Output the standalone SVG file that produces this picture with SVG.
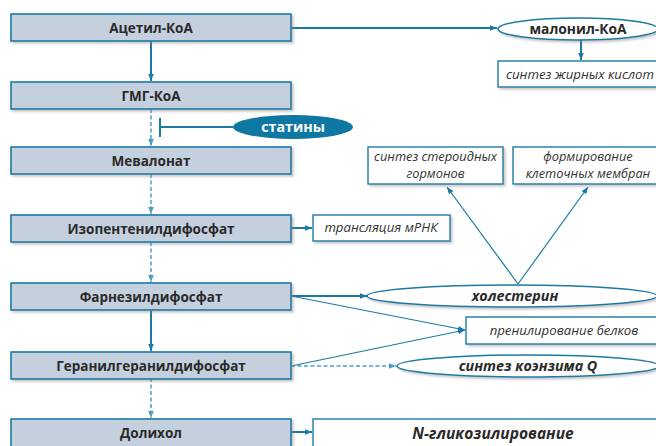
<svg xmlns="http://www.w3.org/2000/svg" width="656" height="446" viewBox="0 0 656 446">
<defs>
<marker id="ah" viewBox="0 0 10 10" refX="10" refY="5" markerWidth="7" markerHeight="7" markerUnits="userSpaceOnUse" orient="auto"><path d="M0,1 L10,5 L0,9 z" fill="#1a7aa5"/></marker>
<marker id="ahl" viewBox="0 0 10 10" refX="10" refY="5" markerWidth="7" markerHeight="7" markerUnits="userSpaceOnUse" orient="auto"><path d="M0,1 L10,5 L0,9 z" fill="#4a9fc6"/></marker>
<filter id="sh" x="-5%" y="-20%" width="115%" height="160%"><feDropShadow dx="2" dy="2" stdDeviation="1.2" flood-color="#888" flood-opacity="0.45"/></filter>
</defs>
<style>
.main rect{fill:#c5d0de;stroke:#1a7aa5;stroke-width:1.6;filter:url(#sh)}
.main text{font-family:"Open Sans","Noto Sans",sans-serif;font-weight:bold;font-size:13.5px;fill:#2a2a2a;text-anchor:middle}
.wb rect{fill:#fff;stroke:#1a7aa5;stroke-width:1.4;filter:url(#sh)}
.wb text{font-family:"Open Sans","Noto Sans",sans-serif;font-style:italic;font-size:13.2px;fill:#333;text-anchor:middle}
.wb text.two{font-size:12.8px}
.el ellipse{fill:#fff;stroke:#1a7aa5;stroke-width:1.6;filter:url(#sh)}
.bi{font-family:"Open Sans","Noto Sans",sans-serif;font-weight:bold;font-style:italic;font-size:14.3px;fill:#2a2a2a;text-anchor:middle}
.bo{font-family:"Open Sans","Noto Sans",sans-serif;font-weight:bold;font-size:13.8px;fill:#2a2a2a;text-anchor:middle}
.s{stroke:#1a7aa5;stroke-width:2;fill:none}
.t{stroke:#1a7aa5;stroke-width:1.2;fill:none}
.d{stroke:#4a9fc6;stroke-width:1.5;stroke-dasharray:4 2.5;fill:none}
</style>

<g id="connectors">
<line class="s" x1="151" y1="41" x2="151" y2="81" marker-end="url(#ah)"/>
<line class="d" x1="151" y1="109" x2="151" y2="146" marker-end="url(#ahl)"/>
<line class="d" x1="151" y1="174" x2="151" y2="214" marker-end="url(#ahl)"/>
<line class="d" x1="151" y1="242" x2="151" y2="282" marker-end="url(#ahl)"/>
<line class="s" x1="151" y1="310" x2="151" y2="351" marker-end="url(#ah)"/>
<line class="d" x1="151" y1="378" x2="151" y2="418" marker-end="url(#ahl)"/>
<line class="s" x1="291" y1="28" x2="497" y2="28" marker-end="url(#ah)"/>
<line class="s" x1="581" y1="40" x2="581" y2="60" marker-end="url(#ah)"/>
<line class="s" x1="233" y1="127" x2="160" y2="127"/>
<line class="s" x1="160" y1="118" x2="160" y2="137"/>
<line class="s" x1="291" y1="228" x2="312" y2="228" marker-end="url(#ah)"/>
<line class="s" x1="291" y1="296" x2="367" y2="296" marker-end="url(#ah)"/>
<line class="t" x1="291" y1="296" x2="465" y2="330" marker-end="url(#ah)"/>
<line class="t" x1="291" y1="366" x2="465" y2="330" marker-end="url(#ah)"/>
<line class="d" x1="291" y1="366" x2="396" y2="366" marker-end="url(#ahl)"/>
<line class="t" x1="518" y1="284" x2="447" y2="187" marker-end="url(#ah)"/>
<line class="t" x1="518" y1="284" x2="588" y2="187" marker-end="url(#ah)"/>
<line class="s" x1="291" y1="432" x2="312" y2="432" marker-end="url(#ah)"/>
</g>

<g id="acetyl" class="main"><rect x="11" y="14" width="280" height="27"/><text x="151" y="33">Ацетил-КоА</text></g>
<g id="hmg" class="main"><rect x="11" y="82" width="280" height="27"/><text x="151" y="101">ГМГ-КоА</text></g>
<g id="mevalonate" class="main"><rect x="11" y="147" width="280" height="27"/><text x="151" y="166">Мевалонат</text></g>
<g id="ipp" class="main"><rect x="11" y="215" width="280" height="27"/><text x="151" y="234">Изопентенилдифосфат</text></g>
<g id="fpp" class="main"><rect x="11" y="283" width="280" height="27"/><text x="151" y="302">Фарнезилдифосфат</text></g>
<g id="ggpp" class="main"><rect x="11" y="352" width="280" height="27"/><text x="151" y="371">Геранилгеранилдифосфат</text></g>
<g id="dolichol" class="main"><rect x="11" y="419" width="280" height="30"/><text x="151" y="438">Долихол</text></g>

<g id="malonyl" class="el"><ellipse cx="578" cy="29" rx="80" ry="11"/><text class="bo" x="578" y="34">малонил-КоА</text></g>
<g id="fatty" class="wb"><rect x="498" y="61" width="162" height="26"/><text x="580" y="79">синтез жирных кислот</text></g>
<g id="statins"><ellipse cx="293" cy="127" rx="60" ry="12" fill="#0e77a2"/><text x="293" y="132" class="bo" style="fill:#fff;font-size:14.3px">статины</text></g>
<g id="steroid" class="wb"><rect x="368" y="147" width="135" height="37"/><text class="two" x="435.5" y="161">синтез стероидных</text><text class="two" x="435.5" y="178">гормонов</text></g>
<g id="membranes" class="wb"><rect x="513" y="147" width="147" height="37"/><text class="two" x="588" y="161">формирование</text><text class="two" x="588" y="178">клеточных мембран</text></g>
<g id="translation" class="wb"><rect x="313" y="215" width="137" height="26"/><text x="381" y="232">трансляция мРНК</text></g>
<g id="cholesterol" class="el"><ellipse cx="512" cy="296" rx="145" ry="11"/><text class="bi" x="515" y="301">холестерин</text></g>
<g id="prenylation" class="wb"><rect x="466" y="317" width="194" height="27"/><text x="564" y="335">пренилирование белков</text></g>
<g id="coq" class="el"><ellipse cx="528" cy="366" rx="131" ry="11"/><text class="bi" x="528" y="371">синтез коэнзима Q</text></g>
<g id="glyco"><rect x="313" y="419" width="350" height="30" fill="#fff" stroke="#1a7aa5" stroke-width="1.4" filter="url(#sh)"/><text class="bi" x="493" y="439" style="font-size:15.5px">N-гликозилирование</text></g>
</svg>
